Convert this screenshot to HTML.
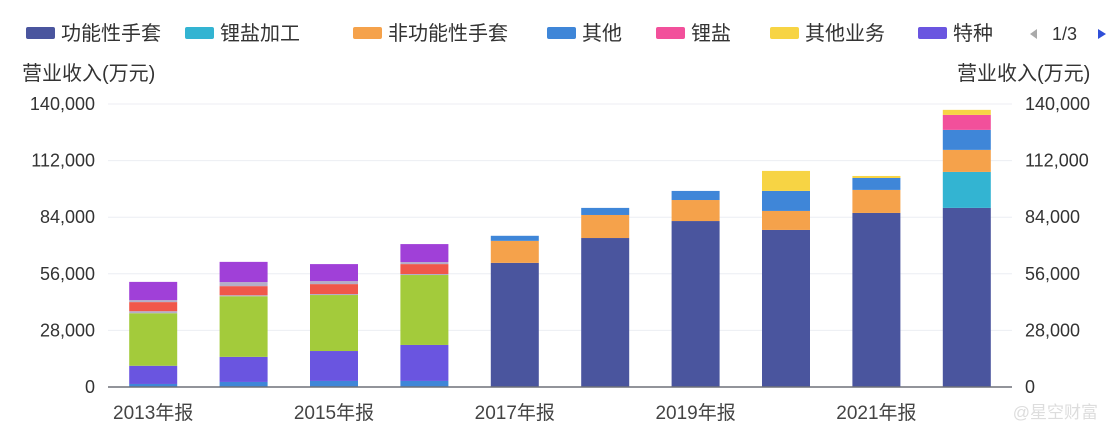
<!DOCTYPE html>
<html><head><meta charset="utf-8"><style>
body{margin:0;background:#fff;}
svg text{font-family:"Liberation Sans","Noto Sans CJK SC",sans-serif;fill:#333;}
</style></head><body>
<svg id="chart" width="1108" height="428" xmlns="http://www.w3.org/2000/svg">
<g id="legend"></g>
<text x="22" y="80" font-size="20">营业收入(万元)</text>
<text x="957" y="80" font-size="20">营业收入(万元)</text>
<g id="grid"></g><g id="bars"></g><g id="axes"></g>
<text x="1098" y="418" font-size="17" text-anchor="end" style="fill:#ddd">@星空财富</text>
</svg>
<script>
const categories=["2013年报","2014年报","2015年报","2016年报","2017年报","2018年报","2019年报","2020年报","2021年报","2022年报"];
const sQita=[1500,2500,3000,3000,2500,3500,4500,9900,5900,9900];
const sTezhong=[9000,12400,14800,17800,0,0,0,0,0,0];
const sGreen=[26000,30000,27700,34600,0,0,0,0,0,0];
const sGray1=[1000,500,500,500,0,0,0,0,0,0];
const sRed=[4500,4500,4900,4900,0,0,0,0,0,0];
const sGray2=[1000,2000,1500,1000,0,0,0,0,0,0];
const sPurple=[9000,10000,8400,8900,0,0,0,0,0,0];
const sGongneng=[0,0,0,0,61400,73700,82100,77700,86100,88600];
const sLiyanJG=[0,0,0,0,0,0,0,0,0,17800];
const sFeigongneng=[0,0,0,0,10900,11400,10400,9400,11400,10900];
const sLiyan=[0,0,0,0,0,0,0,0,0,7400];
const sQitaYW=[0,0,0,0,0,0,0,9900,1000,2500];
const yTicks=[0,28000,56000,84000,112000,140000];
const yTickLabels=["0","28,000","56,000","84,000","112,000","140,000"];
const legendNames=["功能性手套","锂盐加工","非功能性手套","其他","锂盐","其他业务","特种"];

const NS="http://www.w3.org/2000/svg";
const x0=108,x1=1012,y0=387,yTop=104,yMax=140000;
const band=(x1-x0)/categories.length,bw=48;
const yS=v=>y0-v/yMax*(y0-yTop);
const xC=i=>x0+band*(i+0.5);
function mk(tag,attrs,parent){const e=document.createElementNS(NS,tag);for(const k in attrs)e.setAttribute(k,attrs[k]);parent.appendChild(e);return e;}

const stack=[
 ["other",sQita,"#3f86d8"],["special",sTezhong,"#6a55e0"],["segment-green",sGreen,"#a3cb3b"],["segment-gray-low",sGray1,"#b4aec8"],
 ["segment-red",sRed,"#f0574a"],["segment-gray-high",sGray2,"#b4aec8"],["segment-purple",sPurple,"#a040d8"],
 ["functional-gloves",sGongneng,"#4a559e"],["lithium-processing",sLiyanJG,"#33b4d2"],["non-functional-gloves",sFeigongneng,"#f5a24b"],
 ["lithium-salt",sLiyan,"#f2509b"],["other-business",sQitaYW,"#f7d444"]];
const order=[7,8,9,0,1,2,3,4,5,6,10,11];
const grid=document.getElementById('grid'),bars=document.getElementById('bars'),axes=document.getElementById('axes');
yTicks.forEach((t,i)=>{
 const y=yS(t);
 if(i>0){const l=mk('line',{x1:x0,x2:x1,y1:y,y2:y,stroke:'#eceef3','stroke-width':1},grid);
 
 }
 const a=mk('text',{x:95,y:y+6,'font-size':18,'text-anchor':'end'},axes);a.textContent=yTickLabels[i];
 
 
 const b=mk('text',{x:1025,y:y+6,'font-size':18},axes);b.textContent=yTickLabels[i];
 
 
});
categories.forEach((c,i)=>{
 let acc=0;
 order.forEach(k=>{const [n,arr,col]=stack[k];const v=arr[i];if(!v)return;
  const r=mk('rect',{x:xC(i)-bw/2,y:yS(acc+v),width:bw,height:yS(acc)-yS(acc+v),fill:col},bars);
  
  
  acc+=v;});
 if(i%2===0){const t=mk('text',{x:xC(i),y:419,'font-size':19,'text-anchor':'middle',style:'fill:#444'},axes);t.textContent=c;
 
 }
});
const ax=mk('line',{x1:x0,x2:x1,y1:y0,y2:y0,stroke:'#6e7079','stroke-width':1.5},axes);



const lg=document.getElementById('legend');
const legCols=["#4a559e","#33b4d2","#f5a24b","#3f86d8","#f2509b","#f7d444","#6a55e0"];
const legX=[26,185,353,547,656,770,918];
legendNames.forEach((n,i)=>{
 const r=mk('rect',{x:legX[i],y:27,width:29,height:12,rx:2,fill:legCols[i]},lg);
 
 
 const t=mk('text',{x:legX[i]+35,y:40,'font-size':20},lg);t.textContent=n;
 
 
});
const pv=mk('path',{d:'M1030 34 L1037 29 L1037 39 Z',fill:'#aaa'},lg);


const pg=mk('text',{x:1052,y:40,'font-size':18},lg);pg.textContent='1/3';


const nx=mk('path',{d:'M1098 29 L1106 34 L1098 39 Z',fill:'#2f4fd8'},lg);


</script>
</body></html>
